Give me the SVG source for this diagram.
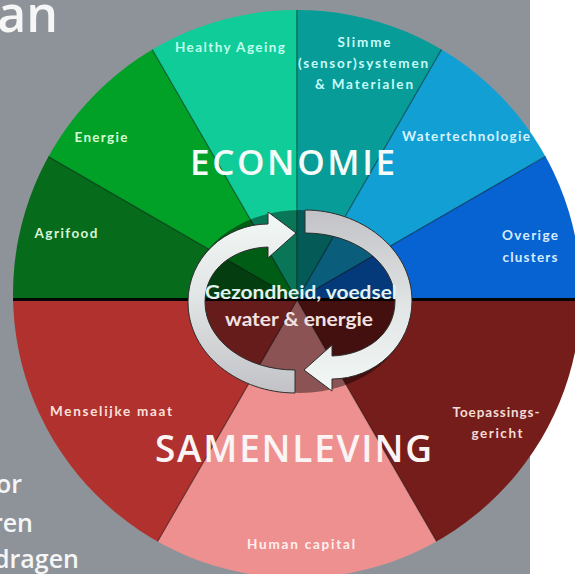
<svg xmlns="http://www.w3.org/2000/svg" xmlns:xlink="http://www.w3.org/1999/xlink" width="575" height="574" viewBox="0 0 575 574">
<style>
.wedge{stroke:#000;stroke-opacity:0.3;stroke-width:1.2}
.lbl{font-family:Lato,"Open Sans","Liberation Sans",sans-serif;font-weight:700;font-size:13.5px;text-anchor:middle}
.big{font-family:"Open Sans",Lato,"Liberation Sans",sans-serif;font-weight:600;text-anchor:middle}
.mid{font-family:Lato,"Open Sans","Liberation Sans",sans-serif;font-weight:700;font-size:19px;text-anchor:middle}
.side{font-family:"Open Sans","Liberation Sans",sans-serif;font-weight:600;fill:#f6f6f6;text-anchor:end}
.arrow{stroke:#2e2e2e;stroke-width:1}
</style>
<defs>
<clipPath id="circ"><circle cx="297" cy="294" r="284"/></clipPath>
<linearGradient id="ag" x1="0" y1="0" x2="0" y2="1">
<stop offset="0" stop-color="#f2f8f6"/>
<stop offset="0.45" stop-color="#e2e6e6"/>
<stop offset="1" stop-color="#c2c2c6"/>
</linearGradient>
<path id="arrowA" d="M 268 247 L 268 258 L 296 233 L 268 212 L 268 224 C 225 224, 188 258, 188 302 C 188 355, 240 393, 295 393 L 295 370 C 245 370, 205 340, 205 302 C 205 268, 235 248, 268 247 Z"/>
</defs>
<rect x="0" y="0" width="575" height="574" fill="#ffffff"/>
<rect x="0" y="0" width="530" height="574" fill="#8d9399"/>
<text class="side" x="58" y="32" font-size="50">an</text>
<text class="side" x="22" y="493" font-size="25">or</text>
<text class="side" x="33" y="532" font-size="25">ren</text>
<text class="side" x="79" y="568" font-size="25">dragen</text>
<g clip-path="url(#circ)">
<g id="agrifood"><polygon class="wedge" fill="#076b1c" points="297,300 -303,300 -222.6,0"/></g>
<g id="energie"><polygon class="wedge" fill="#01a027" points="297,300 -222.6,0 -3,-219.6"/></g>
<g id="healthy-ageing"><polygon class="wedge" fill="#10cc98" points="297,300 -3,-219.6 297,-300"/></g>
<g id="slimme"><polygon class="wedge" fill="#079c97" points="297,300 297,-300 597,-219.6"/></g>
<g id="watertechnologie"><polygon class="wedge" fill="#12a0d4" points="297,300 597,-219.6 816.6,0"/></g>
<g id="overige"><polygon class="wedge" fill="#0863d2" points="297,300 816.6,0 897,300"/></g>
<g id="toepassingsgericht"><polygon class="wedge" fill="#751d1a" points="297,300 897,300 597,819.6"/></g>
<g id="human-capital"><polygon class="wedge" fill="#ef9090" points="297,300 597,819.6 -3,819.6"/></g>
<g id="menselijke-maat"><polygon class="wedge" fill="#b0312d" points="297,300 -3,819.6 -303,300"/></g>
<line x1="0" y1="299.5" x2="600" y2="299.5" stroke="#050505" stroke-width="3"/>
</g>
<g id="center">
<ellipse cx="300" cy="301.5" rx="112" ry="91.5" fill="#000" fill-opacity="0.42"/>
</g>
<g id="connectors">
<use xlink:href="#arrowA" class="arrow" fill="url(#ag)"/>
<use xlink:href="#arrowA" class="arrow" fill="url(#ag)" transform="rotate(180 300 301.5)"/>
</g>
<g id="labels">
<text class="lbl" x="230" y="52" fill="#bfffee" textLength="110" lengthAdjust="spacing">Healthy Ageing</text>
<text class="lbl" x="364" y="47" fill="#c8fafa" textLength="53" lengthAdjust="spacing">Slimme</text>
<text class="lbl" x="363" y="68" fill="#c8fafa" textLength="130" lengthAdjust="spacing">(sensor)systemen</text>
<text class="lbl" x="364" y="89" fill="#c8fafa" textLength="98" lengthAdjust="spacing">&amp; Materialen</text>
<text class="lbl" x="466" y="141" fill="#d8f4ff" textLength="128" lengthAdjust="spacing">Watertechnologie</text>
<text class="lbl" x="101" y="142" fill="#d6ffd6" textLength="53" lengthAdjust="spacing">Energie</text>
<text class="lbl" x="66" y="238" fill="#d8f5d8" textLength="63" lengthAdjust="spacing">Agrifood</text>
<text class="lbl" x="530" y="240" fill="#d5ecff" textLength="56" lengthAdjust="spacing">Overige</text>
<text class="lbl" x="530" y="262" fill="#d5ecff" textLength="55" lengthAdjust="spacing">clusters</text>
<text class="lbl" x="111" y="416" fill="#fbe0dc" textLength="122" lengthAdjust="spacing">Menselijke maat</text>
<text class="lbl" x="496" y="417" fill="#f3dcd6" textLength="87" lengthAdjust="spacing">Toepassings-</text>
<text class="lbl" x="497" y="438" fill="#f3dcd6" textLength="51" lengthAdjust="spacing">gericht</text>
<text class="lbl" x="301" y="549" fill="#fff0ee" textLength="108" lengthAdjust="spacing">Human capital</text>
<text class="big" x="292.5" y="175" font-size="35" fill="#f4fbf8" textLength="205" lengthAdjust="spacing">ECONOMIE</text>
<text class="big" x="293.5" y="462" font-size="37" fill="#fbf4f4" textLength="277" lengthAdjust="spacing">SAMENLEVING</text>
<text class="mid" x="301" y="299" fill="#e2f2ee" textLength="192" lengthAdjust="spacingAndGlyphs">Gezondheid, voedsel</text>
<text class="mid" x="299" y="326" fill="#f2e2e2" textLength="148" lengthAdjust="spacingAndGlyphs">water &amp; energie</text>
</g>
</svg>
